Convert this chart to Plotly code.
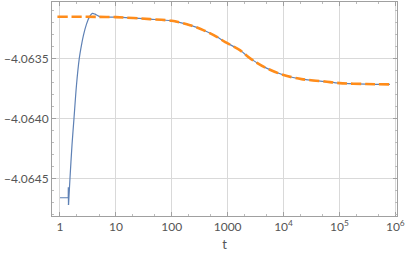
import plotly.graph_objects as go

# Blue series: initial flat part with the small spike
t_blue_start = [1.0, 1.405, 1.41, 1.415, 1.419]
y_blue_start = [-4.064662, -4.064662, -4.064575, -4.064722, -4.064722]

# Blue series: rise, overshoot and slow relaxation
t_blue_main = [1.419, 1.51, 1.64, 1.78, 1.973, 2.214, 2.424, 2.633, 2.979, 3.343, 3.784, 4.228, 4.688, 5.195,
               10, 41, 100, 212, 366, 639, 890, 1654, 2527, 4640, 10000, 21000, 55000,
               100000, 300000, 800000]
y_blue_main = [-4.064722, -4.064500, -4.064222, -4.064000, -4.063722, -4.063500, -4.063389, -4.063306,
               -4.063214, -4.063156, -4.063125, -4.063131, -4.063143, -4.063153,
               -4.063156, -4.063173, -4.063187, -4.063223, -4.063264, -4.063320, -4.063362, -4.063431,
               -4.063500, -4.063575, -4.063639, -4.063673, -4.063693, -4.063706, -4.063714, -4.063717]

# Orange dashed series (approximation)
t_orange = [0.9, 5, 10, 41, 100, 212, 366, 639, 890, 1654, 2527, 4640, 10000, 21000, 55000,
            100000, 300000, 800000]
y_orange = [-4.063153, -4.063154, -4.063156, -4.063173, -4.063187, -4.063223, -4.063264, -4.063320,
            -4.063362, -4.063431, -4.063500, -4.063575, -4.063639, -4.063673, -4.063693, -4.063706,
            -4.063714, -4.063717]

x_tickvals = [1, 10, 100, 1000, 1e4, 1e5, 1e6]
x_ticktext = ["1", "10", "100", "1000", "10<sup>4</sup>", "10<sup>5</sup>", "10<sup>6</sup>"]
y_tickvals = [-4.0645, -4.0640, -4.0635]
y_ticktext = ["\u22124.0645", "\u22124.0640", "\u22124.0635"]

BLUE = "#5E81B5"
FONT = "Lato, Open Sans, DejaVu Sans, sans-serif"

fig = go.Figure()
fig.add_trace(go.Scatter(x=t_blue_start, y=y_blue_start, mode="lines",
                         line=dict(color=BLUE, width=1.2), showlegend=False))
fig.add_trace(go.Scatter(x=t_blue_main, y=y_blue_main, mode="lines", line_shape="spline",
                         line=dict(color=BLUE, width=1.2, smoothing=0.8), showlegend=False))
fig.add_trace(go.Scatter(x=t_orange, y=y_orange, mode="lines", line_shape="spline",
                         line=dict(color="#FF8C1A", width=2.6, dash="10px,4px", smoothing=0.8),
                         showlegend=False))

axis_common = dict(showline=True, linecolor="#a0a0a0", linewidth=1, mirror="ticks",
                   ticks="inside", ticklen=4, tickcolor="#a0a0a0", automargin=False,
                   showgrid=True, gridcolor="#d9d9d9", gridwidth=1, zeroline=False,
                   tickfont=dict(family=FONT, size=12, color="#555555"))

fig.update_layout(
    width=407, height=262,
    margin=dict(l=52, r=10, t=2, b=46),
    paper_bgcolor="white", plot_bgcolor="white",
    xaxis=dict(type="log", range=[-0.143, 6.03], tickmode="array", tickvals=x_tickvals, ticktext=x_ticktext,
               title=dict(text="t", font=dict(family=FONT, size=13, color="#555555"), standoff=6),
               minor=dict(ticks="inside", ticklen=2, tickcolor="#bbbbbb", showgrid=False),
               **axis_common),
    yaxis=dict(range=[-4.064814, -4.06303], tickmode="array", tickvals=y_tickvals, ticktext=y_ticktext,
               minor=dict(ticks="inside", ticklen=2, tickcolor="#bbbbbb", dtick=0.0001, tick0=-4.0645,
                          showgrid=False),
               **axis_common),
)

fig.write_html("out.html", config={"displayModeBar": False},
               post_script="document.body.style.margin='0';document.body.style.overflow='hidden';")
